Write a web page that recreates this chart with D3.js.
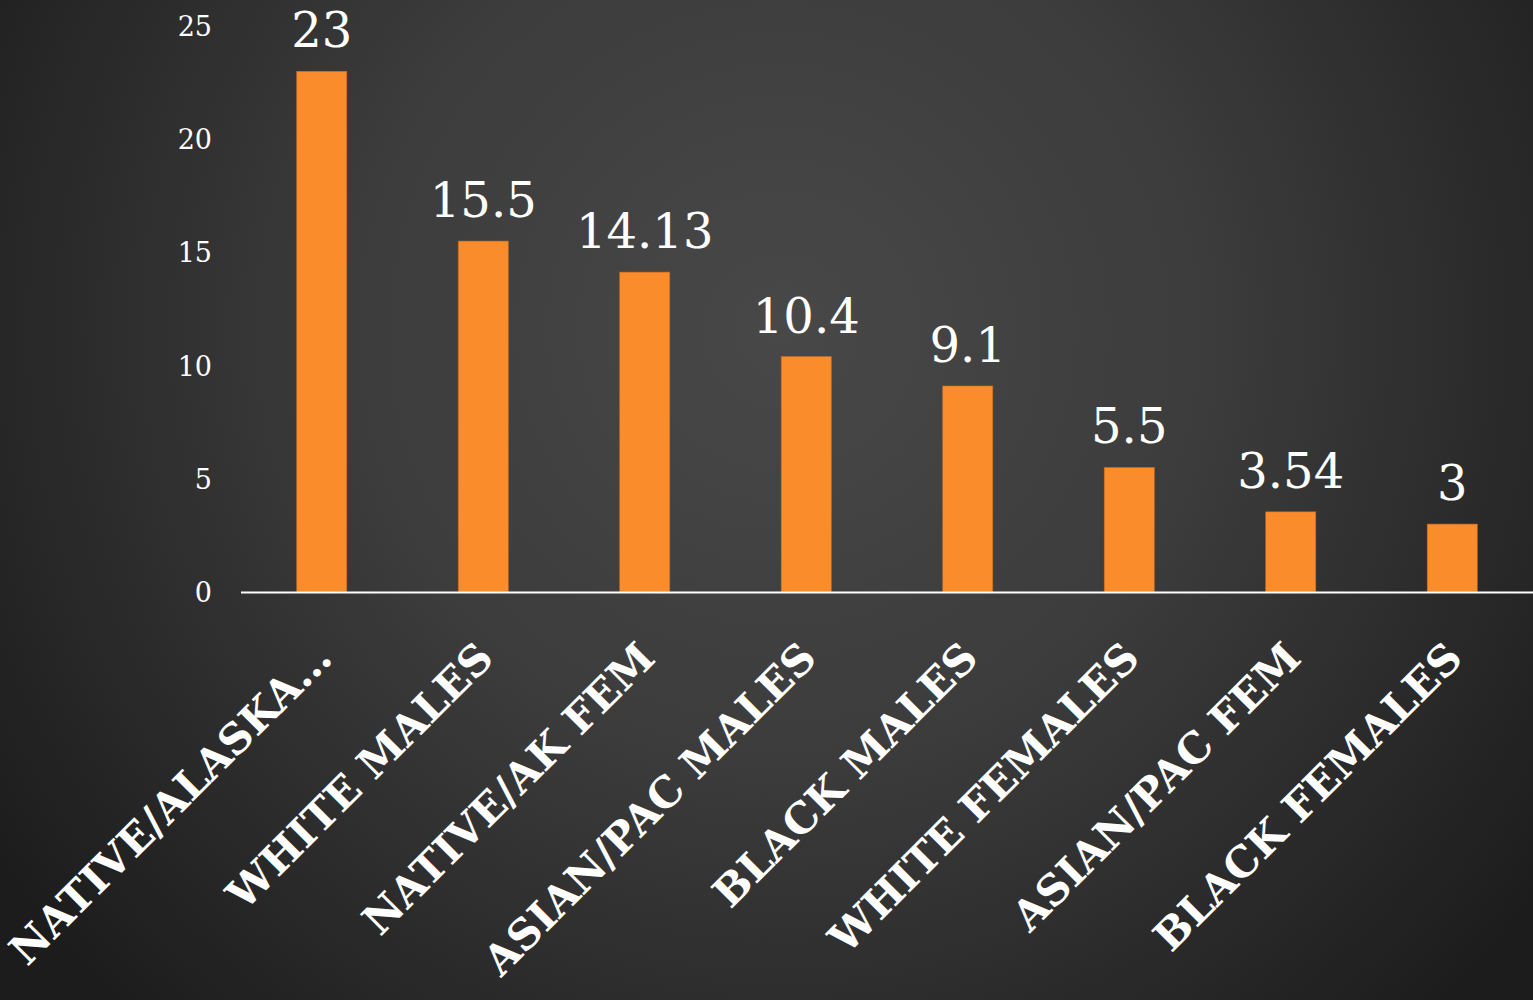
<!DOCTYPE html>
<html><head><meta charset="utf-8">
<script src="https://cdn.jsdelivr.net/npm/d3@7"></script>
<style>html,body{margin:0;padding:0;background:#2a2a2a;}svg{display:block;}</style>
</head><body>
<script>
const categories = ["NATIVE/ALASKA…","WHITE MALES","NATIVE/AK FEM","ASIAN/PAC MALES","BLACK MALES","WHITE FEMALES","ASIAN/PAC FEM","BLACK FEMALES"];
const values = [23, 15.5, 14.13, 10.4, 9.1, 5.5, 3.54, 3];
const valueLabels = ["23","15.5","14.13","10.4","9.1","5.5","3.54","3"];
const yTicks = [0,5,10,15,20,25];

const W = 1533, H = 1000;
const svg = d3.select("body").append("svg").attr("width", W).attr("height", H);
const defs = svg.append("defs");
const rg = defs.append("radialGradient").attr("id","bg").attr("gradientUnits","userSpaceOnUse")
  .attr("cx", 780).attr("cy", 330).attr("r", 950);
rg.append("stop").attr("offset","0%").attr("stop-color","#484848");
rg.append("stop").attr("offset","45%").attr("stop-color","#3c3c3c");
rg.append("stop").attr("offset","100%").attr("stop-color","#1c1c1c");
svg.append("rect").attr("width",W).attr("height",H).attr("fill","url(#bg)");

const x = d3.scaleBand().domain(categories).range([241, 1533]).paddingInner(0.69).paddingOuter(0.345);
const y = d3.scaleLinear().domain([0,25]).range([592, 26]);

// y tick labels
const yAxis = svg.append("g").attr("transform","translate(212,0)")
  .call(d3.axisLeft(y).tickValues(yTicks).tickSize(0).tickPadding(0));
yAxis.select(".domain").remove();
yAxis.selectAll("text").attr("fill","#ffffff").attr("font-family","DejaVu Serif, serif")
  .attr("font-size", 27).attr("dy","0.35em");

// bars
svg.append("g").selectAll("rect").data(values).join("rect")
  .attr("x",(d,i)=>x(categories[i])).attr("width",x.bandwidth())
  .attr("y",d=>y(d)).attr("height",d=>y(0)-y(d))
  .attr("fill","#fb8c2c").attr("stroke","#c86a20").attr("stroke-width",0.6);

// baseline
svg.append("line").attr("x1",241).attr("x2",1533).attr("y1",y(0)+0.5).attr("y2",y(0)+0.5)
  .attr("stroke","#ffffff").attr("stroke-width",2);

// value labels
svg.append("g").selectAll("text").data(values).join("text")
  .attr("x",(d,i)=>x(categories[i])+x.bandwidth()/2)
  .attr("y",d=>y(d)-24)
  .attr("text-anchor","middle").attr("fill","#ffffff")
  .attr("font-family","DejaVu Serif, serif").attr("font-size",48)
  .text((d,i)=>valueLabels[i]);

// category labels
svg.append("g").selectAll("text").data(categories).join("text")
  .attr("transform",(d)=>`translate(${x(d)+x.bandwidth()/2+2},${650}) rotate(-45)`)
  .attr("text-anchor","end").attr("fill","#ffffff")
  .attr("font-family","DejaVu Serif, serif").attr("font-weight","bold").attr("font-size",42)
  .attr("dy","0.35em")
  .text(d=>d);
</script>
</body></html>
